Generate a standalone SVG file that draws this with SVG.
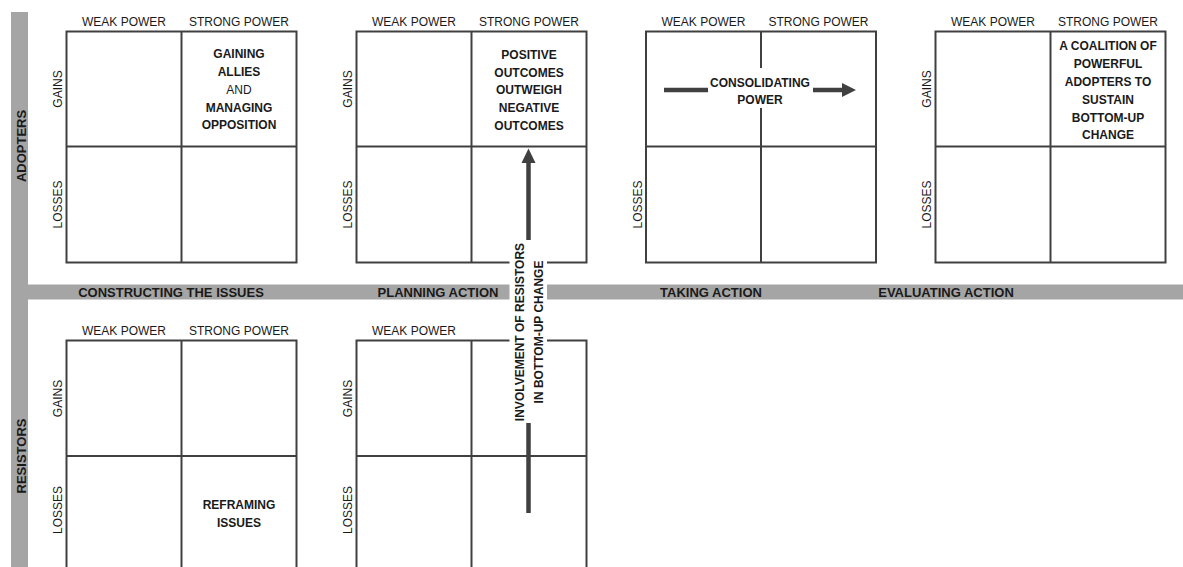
<svg xmlns="http://www.w3.org/2000/svg" width="1183" height="567" viewBox="0 0 1183 567">
  <style>
    .grid { fill: none; stroke: #404040; stroke-width: 2; }
    .bar { fill: #a5a5a5; }
    .lbl { font-family: "Liberation Sans", Arial, sans-serif; font-size: 12px; fill: #1a1a1a; }
    .bold { font-family: "Liberation Sans", Arial, sans-serif; font-size: 12px; font-weight: bold; fill: #1a1a1a; text-anchor: middle; }
    .stage { font-family: "Liberation Sans", Arial, sans-serif; font-size: 13px; font-weight: bold; fill: #1a1a1a; text-anchor: middle; }
    .mid { text-anchor: middle; }
    .arrow { stroke: #404040; stroke-width: 4.5; fill: none; }
    .head { fill: #404040; }
    .mask { fill: #ffffff; }
  </style>

  <!-- stage bars -->
  <rect class="bar" x="11" y="12" width="17" height="555"/>
  <rect class="bar" x="28" y="284.5" width="1155" height="15"/>
  <text class="stage" transform="translate(26,146) rotate(-90)">ADOPTERS</text>
  <text class="stage" transform="translate(26,456) rotate(-90)">RESISTORS</text>
  <text class="stage" x="171" y="296.5">CONSTRUCTING THE ISSUES</text>
  <text class="stage" x="438" y="296.5">PLANNING ACTION</text>
  <text class="stage" x="711" y="296.5">TAKING ACTION</text>
  <text class="stage" x="946" y="296.5">EVALUATING ACTION</text>

  <!-- adopters: constructing the issues -->
  <g id="adopters-constructing">
    <rect class="grid" x="66.5" y="31.5" width="230" height="231"/>
    <line class="grid" x1="181.5" y1="31.5" x2="181.5" y2="262.5"/>
    <line class="grid" x1="66.5" y1="146.5" x2="296.5" y2="146.5"/>
    <text class="lbl mid" x="124" y="26">WEAK POWER</text>
    <text class="lbl mid" x="239" y="26">STRONG POWER</text>
    <text class="lbl mid" transform="translate(62,89) rotate(-90)">GAINS</text>
    <text class="lbl mid" transform="translate(62,204.5) rotate(-90)">LOSSES</text>
    <text class="bold" x="239" y="57.5">GAINING</text>
    <text class="bold" x="239" y="75.5">ALLIES</text>
    <text class="lbl mid" x="239" y="93.5">AND</text>
    <text class="bold" x="239" y="111.5">MANAGING</text>
    <text class="bold" x="239" y="129">OPPOSITION</text>
  </g>

  <!-- adopters: planning action -->
  <g id="adopters-planning">
    <rect class="grid" x="356.5" y="31.5" width="230" height="231"/>
    <line class="grid" x1="471.5" y1="31.5" x2="471.5" y2="262.5"/>
    <line class="grid" x1="356.5" y1="146.5" x2="586.5" y2="146.5"/>
    <text class="lbl mid" x="414" y="26">WEAK POWER</text>
    <text class="lbl mid" x="529" y="26">STRONG POWER</text>
    <text class="lbl mid" transform="translate(352,89) rotate(-90)">GAINS</text>
    <text class="lbl mid" transform="translate(352,204.5) rotate(-90)">LOSSES</text>
    <text class="bold" x="529" y="58.5">POSITIVE</text>
    <text class="bold" x="529" y="76.5">OUTCOMES</text>
    <text class="bold" x="529" y="94">OUTWEIGH</text>
    <text class="bold" x="529" y="112">NEGATIVE</text>
    <text class="bold" x="529" y="130">OUTCOMES</text>
  </g>

  <!-- adopters: taking action -->
  <g id="adopters-taking">
    <rect class="grid" x="646" y="31.5" width="230" height="231"/>
    <line class="grid" x1="761" y1="31.5" x2="761" y2="262.5"/>
    <line class="grid" x1="646" y1="146.5" x2="876" y2="146.5"/>
    <text class="lbl mid" x="703.5" y="26">WEAK POWER</text>
    <text class="lbl mid" x="818.5" y="26">STRONG POWER</text>
    <text class="lbl mid" transform="translate(641.5,204.5) rotate(-90)">LOSSES</text>
  </g>

  <!-- adopters: evaluating action -->
  <g id="adopters-evaluating">
    <rect class="grid" x="935.5" y="31.5" width="230" height="231"/>
    <line class="grid" x1="1050.5" y1="31.5" x2="1050.5" y2="262.5"/>
    <line class="grid" x1="935.5" y1="146.5" x2="1165.5" y2="146.5"/>
    <text class="lbl mid" x="993" y="26">WEAK POWER</text>
    <text class="lbl mid" x="1108" y="26">STRONG POWER</text>
    <text class="lbl mid" transform="translate(931,89) rotate(-90)">GAINS</text>
    <text class="lbl mid" transform="translate(931,204.5) rotate(-90)">LOSSES</text>
    <text class="bold" x="1108" y="49.5">A COALITION OF</text>
    <text class="bold" x="1108" y="67.5">POWERFUL</text>
    <text class="bold" x="1108" y="85.5">ADOPTERS TO</text>
    <text class="bold" x="1108" y="103.5">SUSTAIN</text>
    <text class="bold" x="1108" y="121.5">BOTTOM-UP</text>
    <text class="bold" x="1108" y="139">CHANGE</text>
  </g>

  <!-- resistors: constructing the issues -->
  <g id="resistors-constructing">
    <rect class="grid" x="66.5" y="340.5" width="230" height="231"/>
    <line class="grid" x1="181.5" y1="340.5" x2="181.5" y2="571.5"/>
    <line class="grid" x1="66.5" y1="456" x2="296.5" y2="456"/>
    <text class="lbl mid" x="124" y="335">WEAK POWER</text>
    <text class="lbl mid" x="239" y="335">STRONG POWER</text>
    <text class="lbl mid" transform="translate(62,398.5) rotate(-90)">GAINS</text>
    <text class="lbl mid" transform="translate(62,510) rotate(-90)">LOSSES</text>
    <text class="bold" x="239" y="508.5">REFRAMING</text>
    <text class="bold" x="239" y="527">ISSUES</text>
  </g>

  <!-- resistors: planning action -->
  <g id="resistors-planning">
    <rect class="grid" x="356.5" y="340.5" width="230" height="231"/>
    <line class="grid" x1="471.5" y1="340.5" x2="471.5" y2="571.5"/>
    <line class="grid" x1="356.5" y1="456" x2="586.5" y2="456"/>
    <text class="lbl mid" x="414" y="335">WEAK POWER</text>
    <text class="lbl mid" transform="translate(352,398.5) rotate(-90)">GAINS</text>
    <text class="lbl mid" transform="translate(352,510) rotate(-90)">LOSSES</text>
  </g>

  <!-- connectors -->
  <g id="connectors">
    <!-- consolidating power: weak to strong -->
    <g id="consolidating-power">
      <line class="arrow" x1="664" y1="90" x2="843" y2="90"/>
      <polygon class="head" points="856,90 842,83 842,97"/>
      <rect class="mask" x="708" y="68" width="105" height="40"/>
      <text class="bold" x="760" y="86.5">CONSOLIDATING</text>
      <text class="bold" x="760" y="103.5">POWER</text>
    </g>
    <!-- involvement of resistors: losses to gains -->
    <g id="involvement-of-resistors">
      <line class="arrow" x1="528.5" y1="513" x2="528.5" y2="161"/>
      <polygon class="head" points="528.5,148.5 521.5,163 535.5,163"/>
      <rect class="mask" x="509.5" y="240" width="37.5" height="183"/>
      <text class="bold" transform="translate(524,332) rotate(-90)">INVOLVEMENT OF RESISTORS</text>
      <text class="bold" transform="translate(543,332) rotate(-90)">IN BOTTOM-UP CHANGE</text>
    </g>
  </g>
</svg>
